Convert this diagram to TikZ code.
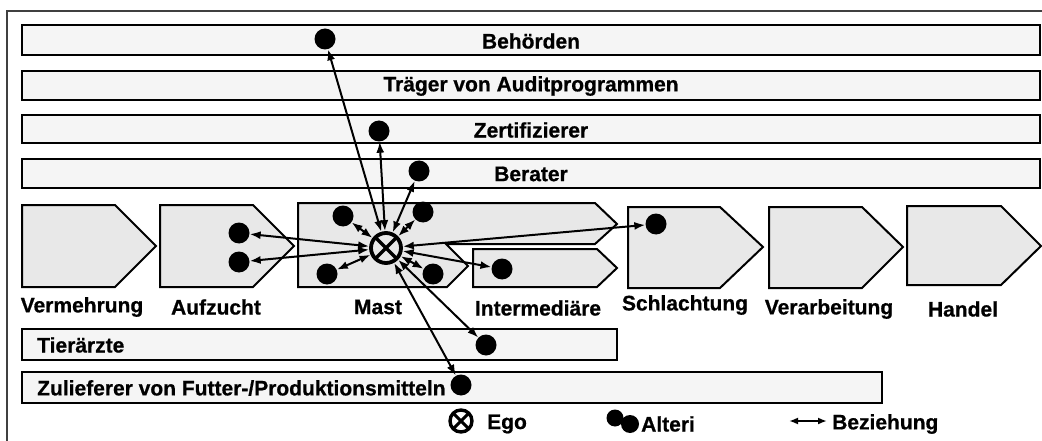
\documentclass[tikz,border=0pt]{standalone}
\usepackage{fontspec}
\setmainfont{Liberation Sans}
\newfontfamily\labfont[BoldFeatures={FakeBold=0.7}]{Liberation Sans}
\usetikzlibrary{arrows.meta}
\begin{document}
\begin{tikzpicture}[x=1pt,y=-1pt,
  bar/.style={draw=black,line width=2.4pt,fill=gray!8},
  stage/.style={draw=black,line width=2pt,fill=gray!18,line join=miter},
  lab/.style={font=\labfont\fontsize{21}{23}\selectfont\bfseries,inner sep=0pt},
  alter/.style={circle,fill=black,minimum size=21pt,inner sep=0pt},
  egonode/.style={circle,draw=black,line width=3.8pt,fill=none,minimum size=30pt,inner sep=0pt,
    path picture={\draw[line width=3.4pt] (path picture bounding box.south west)--(path picture bounding box.north east)
      (path picture bounding box.north west)--(path picture bounding box.south east);}},
  rel/.style={{Latex[length=11pt,width=8pt]}-{Latex[length=11pt,width=8pt]},line width=2pt}]
\useasboundingbox (0,0) rectangle (1042,441);
% frame
\draw[line width=2pt,black!75] (7,441) -- (7,11) -- (1042,11);
% horizontal bars
\draw[bar] (22,25) rectangle (1040,55);
\draw[bar] (22,71) rectangle (1040,100);
\draw[bar] (22,115) rectangle (1040,143);
\draw[bar] (22,159) rectangle (1040,188);
\draw[bar] (22,329) rectangle (617,360);
\draw[bar] (22,372) rectangle (882,403);
\node[lab] (tBeh) at (531,41) {Behörden};
\node[lab] (tTra) at (531,86) {Träger von Auditprogrammen};
\node[lab] (tZer) at (531,130) {Zertifizierer};
\node[lab] (tBer) at (531,174) {Berater};
\node[lab,anchor=west] (tTie) at (37,345) {Tierärzte};
\node[lab,anchor=west] (tZul) at (37,388) {Zulieferer von Futter-/Produktionsmitteln};
% value chain stages
\draw[stage] (22,205) -- (115,205) -- (156,246) -- (115,287) -- (22,287) -- cycle;
\draw[stage] (160,205) -- (253,205) -- (294,246) -- (253,287) -- (160,287) -- cycle;
\draw[stage] (298,203) -- (595,203) -- (617,224) -- (595,244) -- (446,244) -- (468,266) -- (447,287) -- (298,287) -- cycle;
\draw[stage] (473,249) -- (597,249) -- (617,268) -- (597,287) -- (473,287) -- cycle;
\draw[stage] (628,207) -- (720,207) -- (763,247) -- (720,288) -- (628,288) -- cycle;
\draw[stage] (769,207) -- (862,207) -- (903,247) -- (862,288) -- (769,288) -- cycle;
\draw[stage] (907,206) -- (1001,206) -- (1041,246) -- (1001,285) -- (907,285) -- cycle;
\node[lab] (lVer) at (82,307) {Vermehrung};
\node[lab] (lAuf) at (216,307) {Aufzucht};
\node[lab] (lMas) at (378,307) {Mast};
\node[lab] (lInt) at (538,308) {Intermediäre};
\node[lab] (lSch) at (685,305) {Schlachtung};
\node[lab] (lVar) at (829,309) {Verarbeitung};
\node[lab] (lHan) at (963,309) {Handel};
% ego and alteri
\node[egonode] (ego) at (386,248) {};
\node[alter] (dBeh) at (325,39) {};
\node[alter] (dZer) at (379,131) {};
\node[alter] (dBer) at (419,171) {};
\node[alter] (dM1) at (343,216) {};
\node[alter] (dM2) at (423,212) {};
\node[alter] (dM3) at (327,274) {};
\node[alter] (dM4) at (433,274) {};
\node[alter] (dA1) at (239,233) {};
\node[alter] (dA2) at (239,262) {};
\node[alter] (dInt) at (502,269) {};
\node[alter] (dSch) at (656,224) {};
\node[alter] (dTie) at (486,345) {};
\node[alter] (dZul) at (461,385) {};
\foreach \d in {dBeh,dZer,dBer,dM1,dM2,dM3,dM4,dA1,dA2,dInt,dSch,dTie,dZul}
  \draw[rel] (ego) -- (\d);
% legend
\node[egonode,minimum size=22pt,line width=3.4pt,path picture={\draw[line width=3pt] (path picture bounding box.south west)--(path picture bounding box.north east)
      (path picture bounding box.north west)--(path picture bounding box.south east);}] (legEgo) at (461,421) {};
\node[lab,anchor=west] (legEgoT) at (487,424) {Ego};
\node[alter,minimum size=17pt] (legA1) at (615,418) {};
\node[alter,minimum size=18pt] (legA2) at (630,424) {};
\node[lab,anchor=west] (legAT) at (641,424) {Alteri};
\coordinate (legR1) at (789,421);
\coordinate (legR2) at (827,421);
\draw[{Latex[length=9pt,width=7pt]}-{Latex[length=9pt,width=7pt]},line width=1.8pt] (legR1) -- (legR2);
\node[lab,anchor=west] (legRT) at (832,424) {Beziehung};
\end{tikzpicture}
\end{document}
